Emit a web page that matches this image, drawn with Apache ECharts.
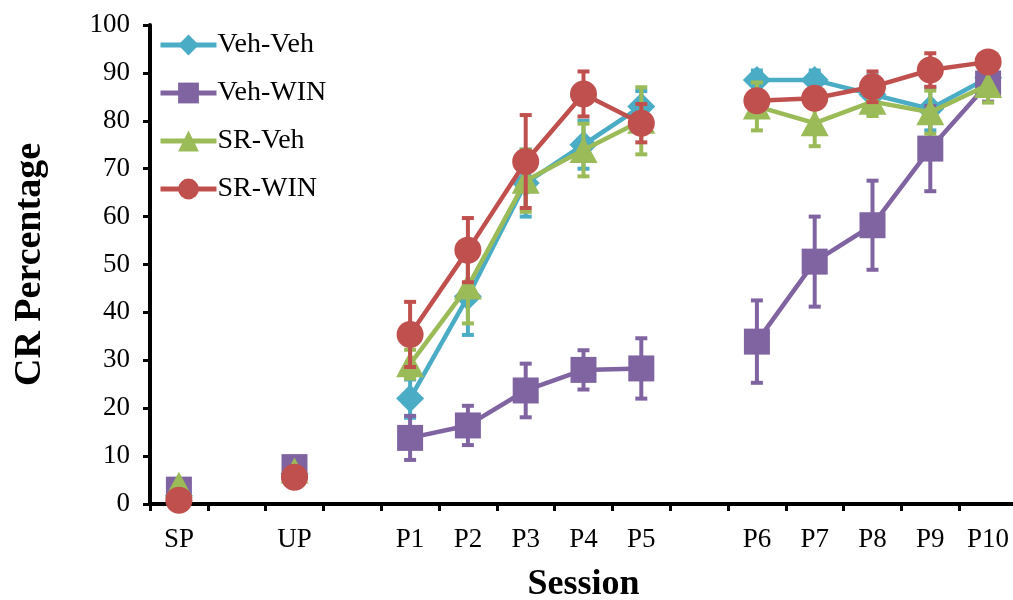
<!DOCTYPE html>
<html>
<head>
<meta charset="utf-8">
<script src="https://cdn.jsdelivr.net/npm/echarts@6/dist/echarts.min.js"></script>
<style>
  html, body { margin: 0; padding: 0; background: #fff; }
  #chart { width: 1013px; height: 600px; }
</style>
</head>
<body>
<div id="chart"></div>
<script>
// Sessions (empty strings are spacer slots between phases)
const categories = ['SP', '', 'UP', '', 'P1', 'P2', 'P3', 'P4', 'P5', '', 'P6', 'P7', 'P8', 'P9', 'P10'];

// Mean CR percentage per group
const vehVeh = [1.7, null, 6.3, null, 22.0, 43.3, 67.0, 75.0, 83.0, null, 88.5, 88.5, 85.5, 82.5, 89.0];
const vehWin = [3.0, null, 7.7, null, 13.8, 16.4, 23.7, 28.0, 28.3, null, 33.9, 50.6, 58.2, 74.2, 87.8];
const srVeh  = [4.0, null, 7.0, null, 29.2, 45.4, 67.5, 73.9, 80.0, null, 83.0, 79.5, 84.0, 81.8, 87.5];
const srWin  = [0.8, null, 5.6, null, 35.4, 53.0, 71.5, 85.6, 79.5, null, 84.2, 84.7, 87.1, 90.6, 92.3];

// Standard error per group
const vehVehErr = [0, null, 0, null, 4.0, 8.0, 7.0, 5.0, 3.2, null, 2.0, 2.0, 4.0, 4.5, 3.0];
const vehWinErr = [0, null, 0, null, 4.6, 4.1, 5.6, 4.1, 6.3, null, 8.6, 9.4, 9.3, 8.9, 3.8];
const srVehErr  = [0, null, 0, null, 3.0, 7.7, 6.5, 5.5, 7.0, null, 5.0, 4.8, 3.0, 4.5, 3.7];
const srWinErr  = [0, null, 0, null, 6.8, 6.7, 9.7, 4.7, 4.0, null, 1.5, 1.5, 3.2, 3.5, 2.0];

const groupNames = ['Veh-Veh', 'Veh-WIN', 'SR-Veh', 'SR-WIN'];
const yTicks = { min: 0, max: 100, interval: 10 };

const FONT = "'Liberation Serif', 'Times New Roman', serif";
const groups = [
  { name: groupNames[0], values: vehVeh, errs: vehVehErr, color: '#4BACC6', symbol: 'diamond', size: [28, 28] },
  { name: groupNames[1], values: vehWin, errs: vehWinErr, color: '#8064A2', symbol: 'rect', size: [26, 26] },
  { name: groupNames[2], values: srVeh, errs: srVehErr, color: '#9BBB59', symbol: 'triangle', size: [28, 26] },
  { name: groupNames[3], values: srWin, errs: srWinErr, color: '#C0504D', symbol: 'circle', size: [27, 27] }
];

function errorBarData(values, errs) {
  const out = [];
  values.forEach((v, i) => {
    if (v != null && errs[i]) out.push([i, v - errs[i], v + errs[i]]);
  });
  return out;
}

function errorBarRenderer(color) {
  return function (params, api) {
    const idx = api.value(0);
    const lo = api.coord([idx, api.value(1)]);
    const hi = api.coord([idx, api.value(2)]);
    const half = 6;
    const style = { stroke: color, lineWidth: 4 };
    return {
      type: 'group',
      children: [
        { type: 'line', shape: { x1: lo[0], y1: lo[1], x2: hi[0], y2: hi[1] }, style },
        { type: 'line', shape: { x1: hi[0] - half, y1: hi[1], x2: hi[0] + half, y2: hi[1] }, style },
        { type: 'line', shape: { x1: lo[0] - half, y1: lo[1], x2: lo[0] + half, y2: lo[1] }, style }
      ]
    };
  };
}

const series = [];
groups.forEach((g, k) => {
  series.push({
    name: g.name + ' SE',
    type: 'custom',
    renderItem: errorBarRenderer(g.color),
    data: errorBarData(g.values, g.errs),
    encode: { x: 0, y: [1, 2] },
    z: 2 + k * 2,
    silent: true
  });
  series.push({
    name: g.name,
    type: 'line',
    data: g.values,
    connectNulls: false,
    symbol: g.symbol,
    symbolSize: g.size,
    showAllSymbol: true,
    lineStyle: { color: g.color, width: 4.5 },
    itemStyle: { color: g.color },
    z: 3 + k * 2,
    animation: false
  });
});

const chart = echarts.init(document.getElementById('chart'));
chart.setOption({
  animation: false,
  backgroundColor: '#ffffff',
  grid: { left: 150, right: -4, top: 25, bottom: 96, outerBoundsMode: 'none', containLabel: false },
  legend: {
    data: groupNames,
    orient: 'vertical',
    left: 153,
    top: 26,
    itemWidth: 56,
    itemHeight: 26,
    itemGap: 20,
    lineStyle: { width: 5 },
    textStyle: { fontFamily: FONT, fontSize: 28, lineHeight: 28, color: '#000', padding: [0, 0, 0, -4] }
  },
  xAxis: {
    type: 'category',
    data: categories,
    boundaryGap: true,
    name: 'Session',
    nameLocation: 'middle',
    nameGap: 63,
    nameTextStyle: { fontFamily: FONT, fontSize: 36, fontWeight: 'bold', color: '#000' },
    axisLine: { lineStyle: { color: '#000', width: 4 } },
    axisTick: { show: true, length: 7, lineStyle: { color: '#000', width: 3 }, interval: 0 },
    axisLabel: { interval: 0, fontFamily: FONT, fontSize: 27, color: '#000', margin: 22 },
    splitLine: { show: false }
  },
  yAxis: {
    type: 'value',
    min: yTicks.min,
    max: yTicks.max,
    interval: yTicks.interval,
    name: 'CR Percentage',
    nameLocation: 'middle',
    nameGap: 101,
    nameRotate: 90,
    nameTextStyle: { fontFamily: FONT, fontSize: 38, fontWeight: 'bold', color: '#000' },
    axisLine: { show: true, lineStyle: { color: '#000', width: 4 } },
    axisTick: { show: true, length: 7, lineStyle: { color: '#000', width: 3 } },
    axisLabel: { fontFamily: FONT, fontSize: 27, color: '#000', margin: 20 },
    splitLine: { show: false }
  },
  series
});
</script>
</body>
</html>
